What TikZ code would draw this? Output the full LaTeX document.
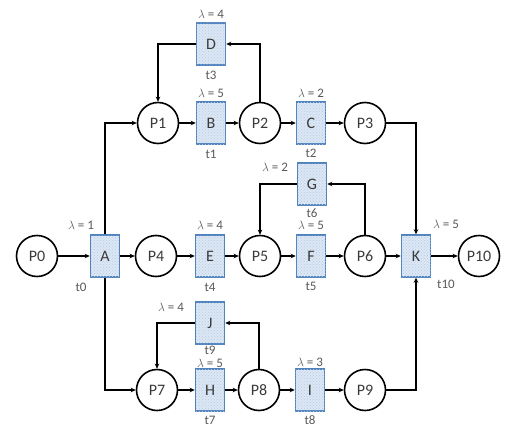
\documentclass[tikz,border=0pt]{standalone}
\usepackage{fontspec}
\setmainfont{Carlito}
\usetikzlibrary{arrows.meta,patterns}
\definecolor{boxline}{HTML}{4F81BD}
\definecolor{boxfill}{HTML}{DCE7F5}
\definecolor{txt}{HTML}{3A3A3A}
\definecolor{lbl}{HTML}{595959}
\tikzset{
  place/.style={circle,draw=black,line width=1.6pt,minimum size=41pt,inner sep=0pt,font=\fontsize{16}{16}\selectfont,text=txt},
  trans/.style={rectangle,draw=boxline,line width=1.5pt,fill=boxfill,minimum width=29pt,minimum height=42pt,inner sep=0pt,font=\fontsize{16}{16}\selectfont,text=txt,
    postaction={pattern=crosshatch dots,pattern color=boxline!40}},
  lab/.style={font=\fontsize{13}{13}\selectfont,text=lbl,inner sep=0pt},
  arc/.style={line width=1.1pt,-{Stealth[length=5pt,width=4.5pt]}}
}
\begin{document}
\begin{tikzpicture}[x=1pt,y=-1pt]
\useasboundingbox (0,0) rectangle (508,428);
% places
\node[place] (P0) at (37,256) {P0};
\node[place] (P1) at (158,123) {P1};
\node[place] (P2) at (260,123) {P2};
\node[place] (P3) at (365,123) {P3};
\node[place] (P4) at (156,256) {P4};
\node[place] (P5) at (260,256) {P5};
\node[place] (P6) at (365,256) {P6};
\node[place] (P7) at (157,390) {P7};
\node[place] (P8) at (259,390) {P8};
\node[place] (P9) at (365,390) {P9};
\node[place] (P10) at (479,256) {P10};
% transitions
\node[trans] (A) at (105,256) {A};
\node[trans] (B) at (211,123) {B};
\node[trans] (C) at (311,123) {C};
\node[trans] (D) at (211,44) {D};
\node[trans] (E) at (210,256) {E};
\node[trans] (F) at (311,256) {F};
\node[trans] (G) at (312,184) {G};
\node[trans] (H) at (210,390) {H};
\node[trans] (I) at (310,390) {I};
\node[trans] (J) at (210,323) {J};
\node[trans] (K) at (416,256) {K};
% labels
\node[lab] (lA) at (81,225) {$\lambda$ = 1};
\node[lab] (tA) at (81,287) {t0};
\node[lab] (lB) at (211,93) {$\lambda$ = 5};
\node[lab] (tB) at (211,154) {t1};
\node[lab] (lC) at (311,93) {$\lambda$ = 2};
\node[lab] (tC) at (311,153) {t2};
\node[lab] (lD) at (211,14) {$\lambda$ = 4};
\node[lab] (tD) at (211,75) {t3};
\node[lab] (lE) at (210,225) {$\lambda$ = 4};
\node[lab] (tE) at (210,287) {t4};
\node[lab] (lF) at (311,225) {$\lambda$ = 5};
\node[lab] (tF) at (311,286) {t5};
\node[lab] (lG) at (275,167) {$\lambda$ = 2};
\node[lab] (tG) at (312,213) {t6};
\node[lab] (lH) at (210,363) {$\lambda$ = 5};
\node[lab] (tH) at (210,420) {t7};
\node[lab] (lI) at (310,362) {$\lambda$ = 3};
\node[lab] (tI) at (310,420) {t8};
\node[lab] (lJ) at (171,307) {$\lambda$ = 4};
\node[lab] (tJ) at (210,350) {t9};
\node[lab] (lK) at (446,224) {$\lambda$ = 5};
\node[lab] (tK) at (446,284) {t10};
% arcs
\draw[arc] (P0) -- (A);
\draw[arc] (A) -- (P4);
\draw[arc] (P4) -- (E);
\draw[arc] (E) -- (P5);
\draw[arc] (P5) -- (F);
\draw[arc] (F) -- (P6);
\draw[arc] (P6) -- (K);
\draw[arc] (K) -- (P10);
\draw[arc] (A.north) |- (P1.west);
\draw[arc] (A.south) |- (P7.west);
\draw[arc] (P1) -- (B);
\draw[arc] (B) -- (P2);
\draw[arc] (P2) -- (C);
\draw[arc] (C) -- (P3);
\draw[arc] (P3.east) -| (K.north);
\draw[arc] (P9.east) -| (K.south);
\draw[arc] (P2.north) |- (D.east);
\draw[arc] (D.west) -| (P1.north);
\draw[arc] (P6.north) |- (G.east);
\draw[arc] (G.west) -| (P5.north);
\draw[arc] (P8.north) |- (J.east);
\draw[arc] (J.west) -| (P7.north);
\draw[arc] (P7) -- (H);
\draw[arc] (H) -- (P8);
\draw[arc] (P8) -- (I);
\draw[arc] (I) -- (P9);
\end{tikzpicture}
\end{document}
